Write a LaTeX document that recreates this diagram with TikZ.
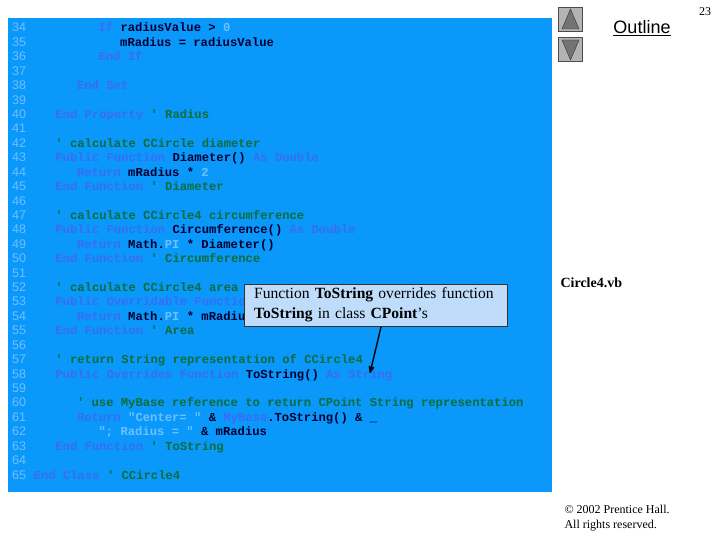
\documentclass[tikz,border=0pt]{standalone}
\usepackage{fontspec}
\setmainfont{Liberation Serif}
\newfontfamily\codefont{Liberation Mono}[BoldFont={Liberation Mono Bold}]
\newfontfamily\arialfont{Liberation Sans}
\usetikzlibrary{arrows,positioning}
\definecolor{panelblue}{HTML}{0A98FA}
\definecolor{kwblue}{HTML}{3A6CF5}
\definecolor{litblue}{HTML}{6FC0FF}
\definecolor{cmgreen}{HTML}{0B6E3A}
\definecolor{idnavy}{HTML}{000030}
\definecolor{notefill}{HTML}{BFDDFB}
\definecolor{btngray}{HTML}{B4B4B4}
\newcommand\kw[1]{\textcolor{kwblue}{#1}}
\newcommand\st[1]{\textcolor{litblue}{#1}}
\newcommand\cm[1]{\textcolor{cmgreen}{#1}}
\newcommand\q{\char"0027\relax}
\newcommand\codeline[3]{%
  \node[lnum] (n#1) at (12,{32+(#1-34)*14.42}) {#1};
  \node[code] (l#1) at ({33.6+7.2*#2},{32+(#1-34)*14.42}) {#3};}
\begin{document}
\begin{tikzpicture}[x=1pt,y=-1pt,
  code/.style={anchor=base west,inner sep=0pt,text=idnavy,font=\codefont\bfseries\fontsize{12.2}{14}\selectfont},
  lnum/.style={anchor=base west,inner sep=0pt,text=litblue,font=\arialfont\fontsize{12.5}{13}\selectfont},
  btn/.style={draw=black!70,fill=btngray,minimum size=24pt,inner sep=0pt},
  tri/.style={fill=black!55,draw=black!80}]
  \useasboundingbox (0,0) rectangle (720,540);
  \fill[panelblue] (8,18) rectangle (552,492);
  % code listing
  \codeline{34}{9}{\kw{If} radiusValue > \st{0}}
  \codeline{35}{12}{mRadius = radiusValue}
  \codeline{36}{9}{\kw{End If}}
  \codeline{37}{0}{}
  \codeline{38}{6}{\kw{End Set}}
  \codeline{39}{0}{}
  \codeline{40}{3}{\kw{End Property} \cm{\q{} Radius}}
  \codeline{41}{0}{}
  \codeline{42}{3}{\cm{\q{} calculate CCircle diameter}}
  \codeline{43}{3}{\kw{Public Function} Diameter() \kw{As Double}}
  \codeline{44}{6}{\kw{Return} mRadius * \st{2}}
  \codeline{45}{3}{\kw{End Function} \cm{\q{} Diameter}}
  \codeline{46}{0}{}
  \codeline{47}{3}{\cm{\q{} calculate CCircle4 circumference}}
  \codeline{48}{3}{\kw{Public Function} Circumference() \kw{As Double}}
  \codeline{49}{6}{\kw{Return} Math.\st{PI} * Diameter()}
  \codeline{50}{3}{\kw{End Function} \cm{\q{} Circumference}}
  \codeline{51}{0}{}
  \codeline{52}{3}{\cm{\q{} calculate CCircle4 area}}
  \codeline{53}{3}{\kw{Public Overridable Function} Area() \kw{As Double}}
  \codeline{54}{6}{\kw{Return} Math.\st{PI} * mRadius \char"005E{} \st{2}}
  \codeline{55}{3}{\kw{End Function} \cm{\q{} Area}}
  \codeline{56}{0}{}
  \codeline{57}{3}{\cm{\q{} return String representation of CCircle4}}
  \codeline{58}{3}{\kw{Public Overrides Function} ToString() \kw{As String}}
  \codeline{59}{0}{}
  \codeline{60}{6}{\cm{\q{} use MyBase reference to return CPoint String representation}}
  \codeline{61}{6}{\kw{Return} \st{"Center= "} \& \kw{MyBase}.ToString() \& \_}
  \codeline{62}{9}{\st{"; Radius = "} \& mRadius}
  \codeline{63}{3}{\kw{End Function} \cm{\q{} ToString}}
  \codeline{64}{0}{}
  \codeline{65}{0}{\kw{End Class} \cm{\q{} CCircle4}}
  % callout
  \node[draw=black!80,fill=notefill,anchor=north west,minimum width=263pt,minimum height=42pt,
    align=left,inner xsep=10pt,text width=243pt,font=\fontsize{15.6}{20}\selectfont] (note) at (244,284)
    {Function \textbf{ToString} overrides function\\ \textbf{ToString} in class \textbf{CPoint}'s};
  \coordinate (tip) at (370,373);
  \draw[line width=1.4pt,-stealth'] (381,327) -- (tip);
  % navigation
  \node[btn] (up) at (570.5,19.5) {};
  \node[btn] (down) at (570.5,49.5) {};
  \fill[tri] (562,29) -- (570.5,9) -- (579,29) -- cycle;
  \fill[tri] (562,40) -- (570.5,60) -- (579,40) -- cycle;
  \node[font=\arialfont\fontsize{18}{20}\selectfont] (outline) at (642,28) {\underline{Outline}};
  \node[font=\fontsize{12}{14}\selectfont] (page) at (705,12) {23};
  \node[font=\bfseries\fontsize{14}{16}\selectfont,anchor=west] (file) at (557,283) {Circle4.vb};
  \node[font=\fontsize{12}{14.5}\selectfont,anchor=north west,align=left] (copy) at (561,502)
    {\textcopyright{} 2002 Prentice Hall.\\All rights reserved.};
\end{tikzpicture}
\end{document}
